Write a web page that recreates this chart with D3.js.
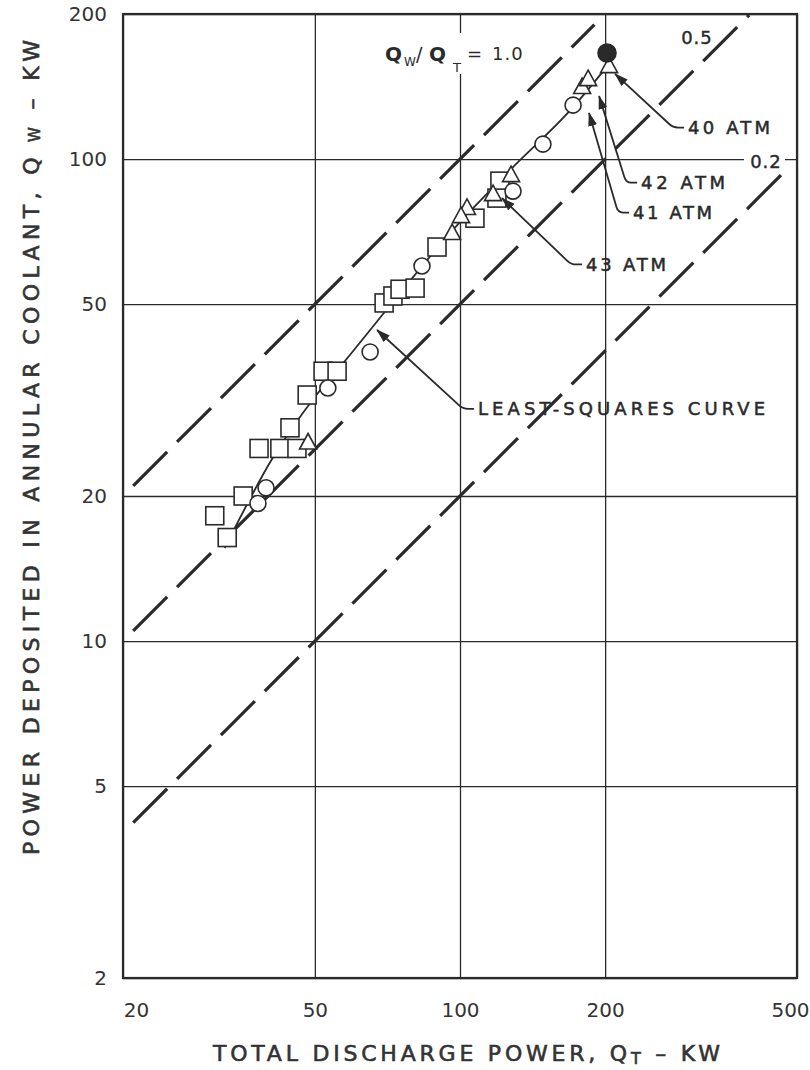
<!DOCTYPE html>
<html><head><meta charset="utf-8">
<script src="https://cdn.jsdelivr.net/npm/d3@7"></script>
<style>body{margin:0;background:#fff} svg{display:block}</style>
</head><body>
<svg id="c" width="810" height="1070"></svg>
<script>
// ---- data ----
const xTicks = [20, 50, 100, 200, 500];
const yTicks = [2, 5, 10, 20, 50, 100, 200];
const ratios = [1.0, 0.5, 0.2];
const ratioXStart = [21, 21, 21];
const ratioXEnd = [190, 398, 484];
const squares = [[31.0,18.2],[32.9,16.4],[35.5,20.0],[38.3,25.1],[42.3,25.1],[45.9,25.1],[44.4,27.7],[48.2,32.4],[52.0,36.3],[55.6,36.3],[69.6,50.3],[72.6,52.0],[75.1,53.7],[80.7,54.0],[89.6,65.7],[107.4,75.4],[121,90.0],[119.3,83.0]];
const circles = [[38.1,19.3],[39.6,20.8],[53.2,33.5],[65.1,39.8],[83.4,60.0],[128.8,85.8],[148.6,107.4],[171.6,129.4]];
const filledCircles = [[201.8,166]];
const triangles = [[48.4,25.7],[96.3,69.9],[103.4,78.8],[100.5,75.8],[117.1,84.2],[127.6,92.2],[179.2,140.4],[184.4,145.8],[203.8,155.2]];
const lsqCurve = [[32.5,15.6],[40.9,24.0],[50.0,32.1],[57.2,37.7],[70.9,49.1],[95.3,70.2],[127,94.9],[171.6,128.2],[199,153]];
const annLabels = ["40 ATM","42 ATM","41 ATM","43 ATM","LEAST-SQUARES CURVE"];
const annText = [[297.2,112.7],[237.5,86.6],[228.5,75.1],[182.6,58.6],[109.0,29.4]];
const annTip = [[209.7,150.2],[194.3,135.1],[185.2,124.6],[122.2,83.0],[67.3,44.2]];
const annWidth = [82, 84, 79, 80, 287];

// ---- chart ----
const svg = d3.select('#c');
const x = d3.scaleLog().domain([20,500]).range([123,797]);
const y = d3.scaleLog().domain([2,200]).range([978,14]);
const ink = '#2a2a2a';

svg.append('defs').append('marker')
  .attr('id','ah').attr('markerUnits','userSpaceOnUse')
  .attr('viewBox','0 -5 14 10').attr('refX',13).attr('refY',0)
  .attr('markerWidth',14).attr('markerHeight',10).attr('orient','auto')
  .append('path').attr('d','M0,-4.5L14,0L0,4.5Z').attr('fill',ink);

const gx = svg.append('g').attr('transform','translate(0,978)')
  .call(d3.axisBottom(x).tickValues(xTicks).tickFormat(d3.format('d')).tickSize(-964).tickPadding(25));
const gy = svg.append('g').attr('transform','translate(123,0)')
  .call(d3.axisLeft(y).tickValues(yTicks).tickFormat(d3.format('d')).tickSize(-674).tickPadding(16));
[gx,gy].forEach(g=>{
  g.select('.domain').remove();
  g.selectAll('line').attr('stroke',ink).attr('stroke-width',1.3);
  g.selectAll('text').attr('fill','#333').style('font-family','DejaVu Sans').style('font-size','20px');
});
gx.selectAll('text').attr('dx', d => d===20 ? 13 : d===500 ? -7 : 0);

svg.append('rect').attr('x',x(20)).attr('y',y(200))
  .attr('width',x(500)-x(20)).attr('height',y(2)-y(200))
  .attr('fill','none').attr('stroke',ink).attr('stroke-width',2.2);

// label background breaks
svg.append('rect').attr('x',380).attr('y',33).attr('width',158).attr('height',41).attr('fill','#fff');
svg.append('rect').attr('x',744).attr('y',150).attr('width',41).attr('height',22).attr('fill','#fff');

// ratio lines
const line = d3.line().x(d=>x(d[0])).y(d=>y(d[1]));
ratios.forEach((r,i)=>{
  svg.append('path')
    .attr('d', line([[ratioXStart[i], r*ratioXStart[i]],[ratioXEnd[i], r*ratioXEnd[i]]]))
    .attr('fill','none').attr('stroke',ink).attr('stroke-width',3.2)
    .attr('stroke-dasharray','48,14');
});

// least squares curve
svg.append('path').attr('d', d3.line().x(d=>x(d[0])).y(d=>y(d[1])).curve(d3.curveMonotoneX)(lsqCurve))
  .attr('fill','none').attr('stroke',ink).attr('stroke-width',1.8);

// markers
const mk = svg.append('g').attr('stroke',ink).attr('stroke-width',1.6).attr('fill','#fff');
mk.selectAll('rect.sq').data(squares).join('rect').attr('class','sq')
  .attr('x',d=>x(d[0])-9).attr('y',d=>y(d[1])-9).attr('width',18).attr('height',18);
mk.selectAll('circle.oc').data(circles).join('circle').attr('class','oc')
  .attr('cx',d=>x(d[0])).attr('cy',d=>y(d[1])).attr('r',8);
mk.selectAll('path.tr').data(triangles).join('path').attr('class','tr')
  .attr('d',d=>`M${x(d[0])},${y(d[1])-10}L${x(d[0])+8.5},${y(d[1])+5.5}L${x(d[0])-8.5},${y(d[1])+5.5}Z`);
mk.selectAll('circle.fc').data(filledCircles).join('circle').attr('class','fc')
  .attr('cx',d=>x(d[0])).attr('cy',d=>y(d[1])).attr('r',9).attr('fill',ink);

// annotations
const font = 'DejaVu Sans';
annLabels.forEach((lab,i)=>{
  const tx = x(annText[i][0]), ty = y(annText[i][1]);
  const cy = ty - 6.5;
  const tipX = x(annTip[i][0]), tipY = y(annTip[i][1]);
  const cx0 = tx - 15;
  const dx = tipX - cx0, dy = tipY - cy, L = Math.hypot(dx,dy);
  const px = cx0 + dx/L*6, py = cy + dy/L*6;
  svg.append('path')
    .attr('d',`M${tx-4},${cy}L${tx-10},${cy}Q${cx0},${cy} ${px},${py}L${tipX},${tipY}`)
    .attr('fill','none').attr('stroke',ink).attr('stroke-width',1.8)
    .attr('marker-end','url(#ah)');
  svg.append('text').attr('x',tx).attr('y',ty).text(lab)
    .attr('textLength',annWidth[i]).attr('lengthAdjust','spacing')
    .attr('fill',ink).attr('stroke',ink).attr('stroke-width',0.5)
    .style('font-family',font).style('font-size','18px');
});

// ratio labels
svg.append('text').attr('x',697).attr('y',44).attr('text-anchor','middle').text('0.5')
  .attr('fill',ink).attr('stroke',ink).attr('stroke-width',0.4)
  .style('font-family',font).style('font-size','18px').style('letter-spacing','1px');
svg.append('text').attr('x',766).attr('y',168).attr('text-anchor','middle').text('0.2')
  .attr('fill',ink).attr('stroke',ink).attr('stroke-width',0.4)
  .style('font-family',font).style('font-size','18px').style('letter-spacing','1px');
const ql = svg.append('text').attr('fill',ink).style('font-family',font);
ql.append('tspan').attr('x',385).attr('y',61).style('font-size','20px').style('font-weight','bold').text('Q');
ql.append('tspan').attr('x',404).attr('y',66).style('font-size','12px').text('W');
ql.append('tspan').attr('x',416).attr('y',61).style('font-size','19px').text('/');
ql.append('tspan').attr('x',429).attr('y',61).style('font-size','20px').style('font-weight','bold').text('Q');
ql.append('tspan').attr('x',453).attr('y',72).style('font-size','13px').text('T');
ql.append('tspan').attr('x',467).attr('y',60).style('font-size','18px').text('=');
ql.append('tspan').attr('x',492).attr('y',60).style('font-size','18px').style('letter-spacing','1px').text('1.0');

// axis titles
const xt = svg.append('text').attr('x',213).attr('y',1061).attr('textLength',507).attr('lengthAdjust','spacing')
  .attr('fill','#333').attr('stroke','#333').attr('stroke-width',0.6)
  .style('font-family',font).style('font-size','22px');
xt.append('tspan').text('TOTAL DISCHARGE POWER, Q');
xt.append('tspan').attr('dy',3).style('font-size','16px').text('T');
xt.append('tspan').attr('dy',-3).text(' – KW');

const yt = svg.append('text').attr('transform','translate(39,855) rotate(-90)').attr('x',0).attr('y',0)
  .attr('textLength',815).attr('lengthAdjust','spacing')
  .attr('fill','#333').attr('stroke','#333').attr('stroke-width',0.6)
  .style('font-family',font).style('font-size','22px');
yt.append('tspan').text('POWER DEPOSITED IN ANNULAR COOLANT, Q');
yt.append('tspan').attr('dy',1).style('font-size','15px').text(' W');
yt.append('tspan').attr('dy',-1).text(' – KW');
</script>
</body></html>
